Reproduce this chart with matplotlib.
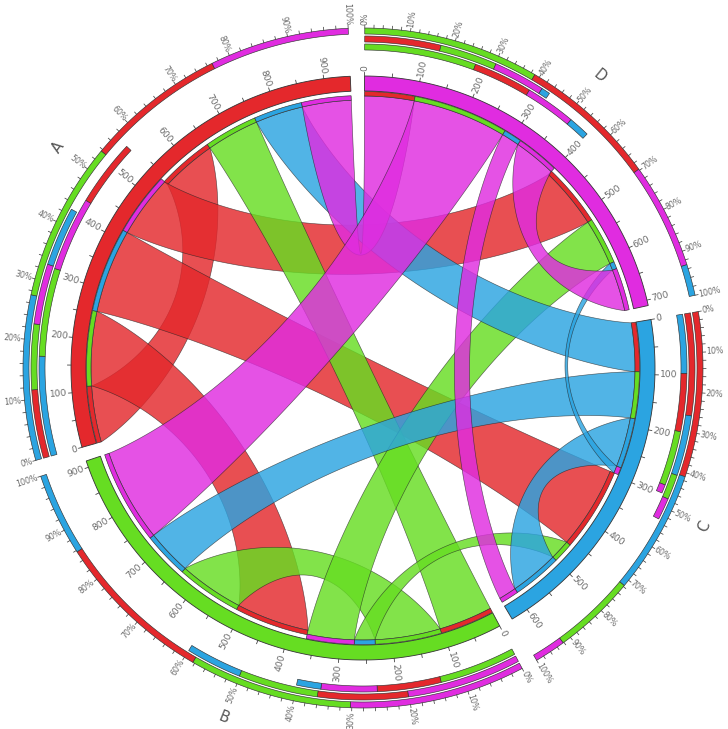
import numpy as np
import matplotlib
matplotlib.use("Agg")
import matplotlib.pyplot as plt
from matplotlib.patches import Polygon

# ---------------- data ----------------
names = ["A", "B", "C", "D"]
seg_colors = ["#e4282c", "#66dd22", "#2ba4e1", "#e02ce0"]
# flows: row = source segment, columns = target segment (A, B, C, D)
flow_A = [110, 145, 164, 122]
flow_B = [105, 128, 40, 92]
flow_C = [95, 90, 97, 14]
flow_D = [97, 184, 35, 83]
clockwise_order = ["D", "C", "B", "A"]
value_label_step = 100
value_minor_step = 50
pct_label_values = list(range(0, 101, 10))

M = np.array([flow_A, flow_B, flow_C, flow_D], float)
n = len(names)
row_tot = M.sum(1)
col_tot = M.sum(0)
seg_tot = row_tot + col_tot

# ---------------- geometry ----------------
W, H = 728, 729
cx, cy = 363, 368
fig = plt.figure(figsize=(W / 100, H / 100), dpi=100)
ax = fig.add_axes([0, 0, 1, 1])
ax.set_xlim(-cx, W - cx)
ax.set_ylim(-(H - cy), cy)
ax.axis("off")

GAP = 2.8
START = 0.3
dpu = (360 - n * GAP) / seg_tot.sum()
seg_start = {}
t = START
for nm in clockwise_order:
    i = names.index(nm)
    seg_start[i] = t
    t += seg_tot[i] * dpu + GAP


def ang(i, v):
    return seg_start[i] + v * dpu


def pt(theta, r):
    a = np.radians(theta)
    return np.array([r * np.sin(a), r * np.cos(a)])


def arc(t1, t2, r):
    k = max(2, int(abs(t2 - t1) * 3) + 2)
    th = np.radians(np.linspace(t1, t2, k))
    return np.column_stack([r * np.sin(th), r * np.cos(th)])


def band(t1, t2, r1, r2, fc, ec="#333333", lw=0.5, z=3, alpha=1.0):
    poly = np.vstack([arc(t1, t2, r2), arc(t2, t1, r1)])
    ax.add_patch(Polygon(poly, closed=True, fc=fc, ec=ec, lw=lw, zorder=z, alpha=alpha))


def radial_text(th, r, s, size, color):
    p = pt(th, r)
    if th % 360 < 180:
        rot, ha = 90 - th, "left"
    else:
        rot, ha = 270 - th, "right"
    ax.text(p[0], p[1], s, rotation=rot, ha=ha, va="center",
            rotation_mode="anchor", fontsize=size, color=color, zorder=6)


TXT = "#6a6a6a"
R_ID_IN, R_ID_OUT = 277, 292

# ideogram
for i in range(n):
    t0 = ang(i, 0)
    t1 = ang(i, seg_tot[i])
    band(t0, t1, R_ID_IN, R_ID_OUT, seg_colors[i], lw=0.6, z=5)
    for v in range(0, int(seg_tot[i]) + 1, value_minor_step):
        th = ang(i, v)
        p1, p2 = pt(th, R_ID_OUT), pt(th, R_ID_OUT + 3.5)
        ax.plot([p1[0], p2[0]], [p1[1], p2[1]], color="#444444", lw=0.6, zorder=5)
        if v % value_label_step == 0:
            radial_text(th, R_ID_OUT + 5, str(v), 6.6, TXT)
    tm = (t0 + t1) / 2
    rot = -tm if not (90 < tm < 270) else 180 - tm
    p = pt(tm, 376)
    ax.text(p[0], p[1], names[i], rotation=rot, ha="center", va="center",
            rotation_mode="anchor", fontsize=10.5, color="#555555", zorder=6)

# ---------------- ribbons ----------------
R_SRC, R_TGT = 272, 268
K_PULL = 125.0


def bez(ts, rs, tt_, rt):
    p0, p3 = pt(ts, rs), pt(tt_, rt)
    d = tt_ - ts
    if d > 300:          # ends just across the top gap: mean taken unwrapped
        mid = (ts + tt_) / 2.0
    else:
        d = (d + 180) % 360 - 180
        mid = ts + d / 2.0
    cm = np.linalg.norm((p0 + p3) / 2.0)
    B = pt(mid, max(cm - K_PULL, 0.0))
    ctrl = [p0, p0, B, p3, p3]
    tt = np.linspace(0, 1, 90)[:, None]
    coef = [1, 4, 6, 4, 1]
    out = np.zeros((len(tt), 2))
    for k in range(5):
        out += coef[k] * (tt ** k) * ((1 - tt) ** (4 - k)) * ctrl[k]
    return out


out_off = np.zeros(n)
in_off = row_tot.copy()
ends = {}
for i in range(n):
    for j in range(n):
        v = M[i, j]
        ends[(i, j)] = [ang(i, out_off[i]), ang(i, out_off[i] + v)]
        out_off[i] += v
for j in range(n):
    for i in range(n):
        v = M[i, j]
        ends[(i, j)] += [ang(j, in_off[j]), ang(j, in_off[j] + v)]
        in_off[j] += v

z = 10
for i in range(n):
    for j in range(n):
        a1, a2, b1, b2 = ends[(i, j)]
        s_arc = arc(a1, a2, R_SRC)
        e1 = bez(a2, R_SRC, b1, R_TGT)
        t_arc = arc(b1, b2, R_TGT)
        e2 = bez(a1, R_SRC, b2, R_TGT)[::-1]
        poly = np.vstack([s_arc, e1, t_arc, e2])
        ax.add_patch(Polygon(poly, closed=True, fc=seg_colors[i], alpha=0.82,
                             ec="none", zorder=z))
        ax.add_patch(Polygon(poly, closed=True, fc="none", ec="#222222", lw=0.45,
                             alpha=0.7, zorder=z + 0.5))
        band(a1, a2, R_SRC, R_SRC + 4.5, seg_colors[j], lw=0.45, z=z + 0.6)
        band(b1, b2, R_TGT, R_TGT + 4.5, seg_colors[i], lw=0.45, z=z + 0.6)
        z += 1

# ---------------- percentage rings ----------------
RINGS = {"out": (318, 324), "in": (326, 332), "tot": (334, 340)}
for s in range(n):
    span = seg_tot[s]
    comp = {"out": M[s, :], "in": M[:, s], "tot": M[s, :] + M[:, s]}
    for key, vals in comp.items():
        order = sorted(range(n), key=lambda k: -vals[k])
        acc = 0.0
        r1, r2 = RINGS[key]
        for k in order:
            band(ang(s, acc), ang(s, acc + vals[k]), r1, r2, seg_colors[k], lw=0.45, z=4)
            acc += vals[k]
    for pc in range(0, 101, 2):
        th = ang(s, pc / 100 * span)
        p1, p2 = pt(th, 340), pt(th, 343)
        ax.plot([p1[0], p2[0]], [p1[1], p2[1]], color="#444444", lw=0.55, zorder=5)
    for pc in pct_label_values:
        th = ang(s, pc / 100 * span)
        radial_text(th, 343.5, f"{pc}%", 5.7, TXT)

fig.savefig("out.png", dpi=100, facecolor="white")
